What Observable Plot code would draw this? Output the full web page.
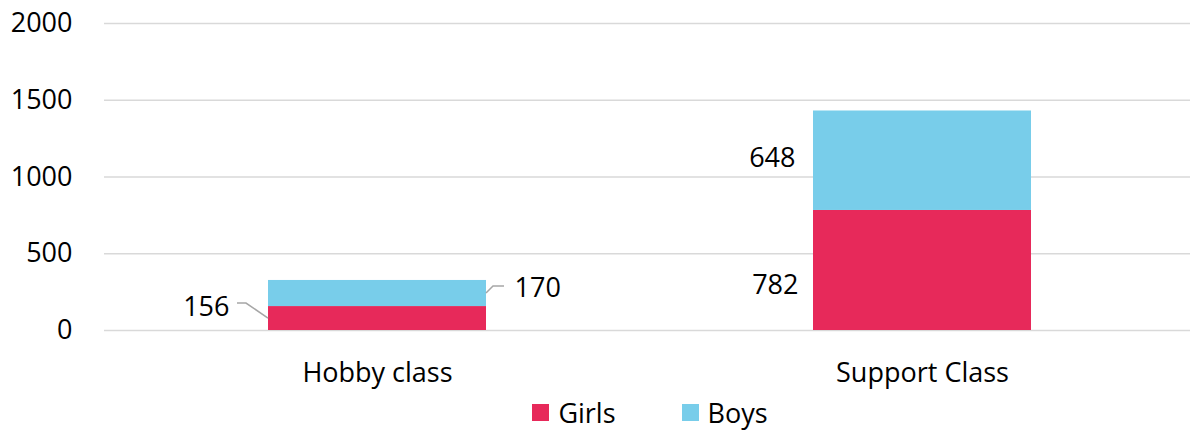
<!DOCTYPE html>
<html>
<head>
<meta charset="utf-8">
<script src="https://cdn.jsdelivr.net/npm/d3@7"></script>
<script src="https://cdn.jsdelivr.net/npm/@observablehq/plot@0.6"></script>
<style>
  html, body { margin: 0; padding: 0; background: #fff; }
  body { width: 1190px; height: 432px; overflow: hidden; font-family: "Open Sans", sans-serif; color: #000; }
  #legend { display: flex; justify-content: center; align-items: center; height: 40px; padding-left: 110px; box-sizing: border-box; width: 1190px; font-size: 27px; }
  .item { display: flex; align-items: center; margin: 0 33px; }
  .sw { width: 17px; height: 17px; margin-right: 9px; }
</style>
</head>
<body>
<div id="chart"></div>
<div id="legend"></div>
<script>
const categories = ["Hobby class", "Support Class"];
const seriesNames = ["Girls", "Boys"];
const girls = [156, 782];
const boys = [170, 648];
const yTicks = [0, 500, 1000, 1500, 2000];
const colors = ["#E7295A", "#78CDEA"];

const data = categories.flatMap((c, i) => [
  {category: c, series: "Girls", value: girls[i], mid: girls[i] / 2},
  {category: c, series: "Boys", value: boys[i], mid: girls[i] + boys[i] / 2}
]);

const FS = 27;
const font = {fontSize: FS, fontFamily: "Open Sans", fill: "#000"};
const lab = (cat, ser, opts) => Plot.text(data.filter(d => d.category === cat && d.series === ser),
  {x: "category", y: "mid", text: d => String(d.value), ...font, ...opts});

const plot = Plot.plot({
  width: 1190,
  height: 392,
  marginTop: 23,
  marginBottom: 62,
  marginLeft: 104,
  marginRight: 0,
  style: {fontFamily: "Open Sans", color: "#000", background: "#fff"},
  x: {domain: categories, range: [104, 1194], paddingInner: 0.6, paddingOuter: 0.3, label: null},
  y: {domain: [0, 2000], label: null},
  color: {domain: seriesNames, range: colors},
  marks: [
    Plot.ruleY(yTicks, {stroke: "#d9d9d9", strokeWidth: 1.5}),
    Plot.barY(data, {x: "category", y: "value", fill: "series"}),
    Plot.axisY({ticks: yTicks, tickSize: 0, tickPadding: 32, fontSize: FS, tickFormat: d => String(d), label: null}),
    Plot.axisX({tickSize: 0, tickPadding: 32, fontSize: FS, label: null}),
    lab("Hobby class", "Girls", {textAnchor: "end", dx: -148, dy: -11}),
    lab("Hobby class", "Boys", {textAnchor: "start", dx: 137, dy: -5}),
    lab("Support Class", "Boys", {textAnchor: "end", dx: -127, dy: -2}),
    lab("Support Class", "Girls", {textAnchor: "end", dx: -124, dy: 15})
  ]
});
document.getElementById("chart").appendChild(plot);

// leader lines for the Hobby class labels, positioned through Plot's scales
const xs = plot.scale("x"), ys = plot.scale("y");
const svg = d3.select(plot);
const hx = xs.apply("Hobby class"), bw = xs.bandwidth;
const gy = ys.apply(girls[0] / 2), by = ys.apply(girls[0] + boys[0] / 2);
const line = d3.line();
svg.append("path")
  .attr("d", line([[hx - 31, gy - 15], [hx - 22, gy - 15], [hx, gy]]))
  .attr("fill", "none").attr("stroke", "#a6a6a6").attr("stroke-width", 1.5);
svg.append("path")
  .attr("d", line([[hx + bw, by], [hx + bw + 7, by - 7], [hx + bw + 18, by - 7]]))
  .attr("fill", "none").attr("stroke", "#a6a6a6").attr("stroke-width", 1.5);

const legend = d3.select("#legend");
seriesNames.forEach((s, i) => {
  const it = legend.append("div").attr("class", "item");
  it.append("div").attr("class", "sw").style("background", colors[i]);
  it.append("span").text(s);
});
</script>
</body>
</html>
